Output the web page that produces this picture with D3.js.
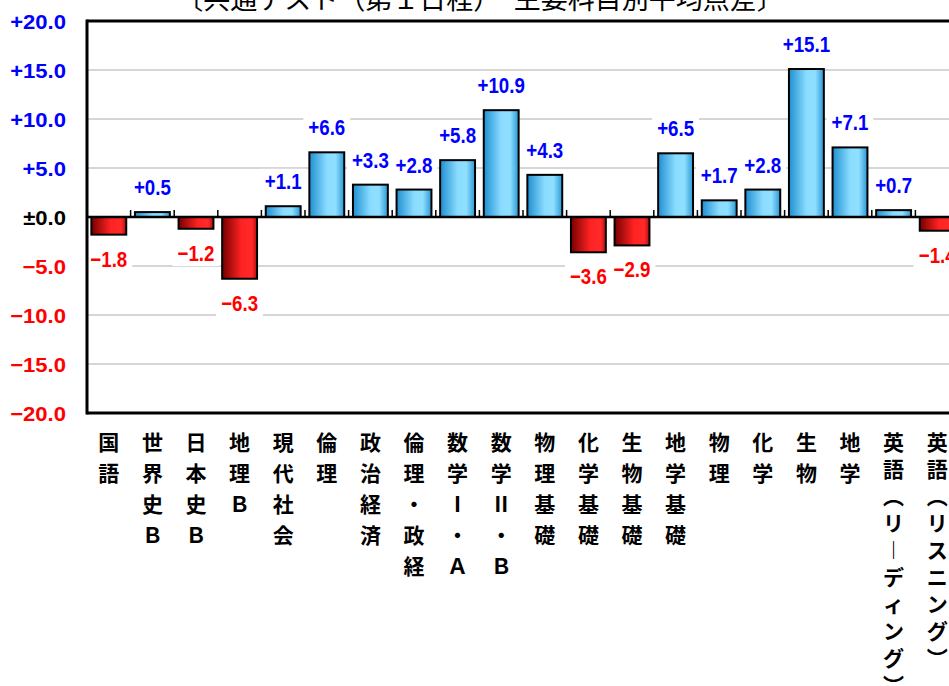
<!DOCTYPE html>
<html><head><meta charset="utf-8">
<script src="https://cdn.jsdelivr.net/npm/d3@7"></script>
<style>
html,body{margin:0;padding:0;background:#fff;overflow:hidden;}
svg{display:block;}
</style></head>
<body>
<svg id="chart" width="949" height="686"></svg>
<script>
const title = "〔共通テスト（第１日程）　主要科目別平均点差〕";
const categories = ["国語","世界史Ｂ","日本史Ｂ","地理Ｂ","現代社会","倫理","政治経済","倫理・政経","数学Ⅰ・Ａ","数学Ⅱ・Ｂ","物理基礎","化学基礎","生物基礎","地学基礎","物理","化学","生物","地学","英語（リーディング）","英語（リスニング）"];
const values = [-1.8,0.5,-1.2,-6.3,1.1,6.6,3.3,2.8,5.8,10.9,4.3,-3.6,-2.9,6.5,1.7,2.8,15.1,7.1,0.7,-1.4];
const yTicks = [-20,-15,-10,-5,0,5,10,15,20];
const yDomain = [-20,20];

const svg = d3.select("#chart");
const M = {left:87, top:21, bottom:413};
const bandW = 43.6;
const x = d3.scaleBand().domain(categories).range([M.left, M.left + bandW*categories.length]).paddingInner(0.2).paddingOuter(0.1);
const y = d3.scaleLinear().domain(yDomain).range([M.bottom, M.top]);
const x0 = M.left, x1 = M.left + bandW*categories.length;

const fmt = v => v > 0 ? "+" + v.toFixed(1) : (v < 0 ? "\u2212" + Math.abs(v).toFixed(1) : "\u00b10.0");
const col = v => v > 0 ? "#0000ff" : (v < 0 ? "#ff0000" : "#000");
const numFont = "'Liberation Sans', Arial, sans-serif";
const cjkFont = "'Noto Sans CJK JP', sans-serif";

// gradients
const defs = svg.append("defs");
const gb = defs.append("linearGradient").attr("id","gBlue").attr("x1","0").attr("x2","1").attr("y1","0").attr("y2","0");
[["0%","#1f8fd0"],["50%","#8adcff"],["75%","#8fdfff"],["100%","#2a98d6"]].forEach(s=>gb.append("stop").attr("offset",s[0]).attr("stop-color",s[1]));
const gr = defs.append("linearGradient").attr("id","gRed").attr("x1","0").attr("x2","1").attr("y1","0").attr("y2","0");
[["0%","#750000"],["55%","#ff2222"],["85%","#ff2a2a"],["100%","#b80c0c"]].forEach(s=>gr.append("stop").attr("offset",s[0]).attr("stop-color",s[1]));

// title
svg.append("text").attr("x", 480).attr("y", 9).attr("text-anchor","middle")
  .style("font-family", cjkFont).style("font-size","27px").style("font-weight","400")
  .attr("fill","#000").text(title);

// gridlines
svg.append("g").selectAll("line").data(yTicks.filter(t => t !== 0 && Math.abs(t) !== 20)).join("line")
  .attr("x1", x0).attr("x2", x1).attr("y1", d => y(d)).attr("y2", d => y(d))
  .attr("stroke","#c8c8c8").attr("stroke-width",1.5);

// y tick labels
const yAxisG = svg.append("g");
yTicks.forEach(t => {
  yAxisG.append("g").attr("transform", `translate(66,${y(t)}) scale(1.05,1)`)
    .append("text").attr("text-anchor","end").attr("dy","0.36em")
    .style("font-family", numFont).style("font-size","21px").style("font-weight","700")
    .attr("fill", col(t)).text(fmt(t));
});

// value labels (bg first)
const labelG = svg.append("g");
const barG = svg.append("g");
const textG = svg.append("g");
categories.forEach((c,i) => {
  const v = values[i];
  const cx = x(c) + x.bandwidth()/2;
  const by = v >= 0 ? y(v) - 17 : y(v) + 32;
  const g = textG.append("g").attr("transform", `translate(${cx},${by}) scale(0.85,1)`);
  const t = g.append("text").attr("text-anchor","middle")
    .style("font-family", numFont).style("font-size","22px").style("font-weight","700")
    .attr("fill", col(v)).text(fmt(v));
  const bb = t.node().getBBox();
  const w = bb.width*0.85 + 10;
  labelG.append("rect").attr("x", cx - w/2).attr("y", by + bb.y - 1).attr("width", w).attr("height", bb.height + 2).attr("fill","#fff");
});

// bars
barG.selectAll("rect").data(categories).join("rect")
  .attr("x", d => x(d))
  .attr("width", x.bandwidth())
  .attr("y", (d,i) => y(Math.max(0, values[i])))
  .attr("height", (d,i) => Math.abs(y(values[i]) - y(0)))
  .attr("fill", (d,i) => values[i] >= 0 ? "url(#gBlue)" : "url(#gRed)")
  .attr("stroke","#000").attr("stroke-width",2);

// frame
svg.append("line").attr("x1", x0).attr("x2", x1).attr("y1", y(20)).attr("y2", y(20)).attr("stroke","#000").attr("stroke-width",3);
svg.append("line").attr("x1", x0).attr("x2", x1).attr("y1", y(-20)).attr("y2", y(-20)).attr("stroke","#000").attr("stroke-width",3);
svg.append("line").attr("x1", x0).attr("x2", x0).attr("y1", y(20)-1.5).attr("y2", y(-20)+1.5).attr("stroke","#000").attr("stroke-width",3);

// zero axis with ticks (ticks point up)
const xAxis = d3.axisTop(x).tickSize(0).tickFormat("");
const ax = svg.append("g").attr("transform", `translate(0,${y(0)})`).call(xAxis);
ax.select(".domain").remove();
svg.append("line").attr("x1", x0).attr("x2", x1).attr("y1", y(0)).attr("y2", y(0)).attr("stroke","#000").attr("stroke-width",2.5);
svg.append("g").selectAll("line").data(d3.range(1, categories.length)).join("line")
  .attr("x1", i => x0 + i*bandW).attr("x2", i => x0 + i*bandW)
  .attr("y1", y(0)).attr("y2", y(0) - 7)
  .attr("stroke","#000").attr("stroke-width",1.5);

// category labels (vertical)
const vmap = {"（":"︵","）":"︶","ー":"︱"};
const catG = svg.append("g");
categories.forEach(c => {
  const chars = Array.from(c);
  const step = chars.length > 6 ? 27 : 31;
  const cx = x(c) + x.bandwidth()/2;
  chars.forEach((ch, j) => {
    catG.append("text").attr("x", cx).attr("y", 442 + j*step).attr("text-anchor","middle").attr("dy","0.36em")
      .style("font-family", cjkFont).style("font-size","21px").style("font-weight","700")
      .attr("fill","#000").text(vmap[ch] || ch);
  });
});
</script>
</body></html>
